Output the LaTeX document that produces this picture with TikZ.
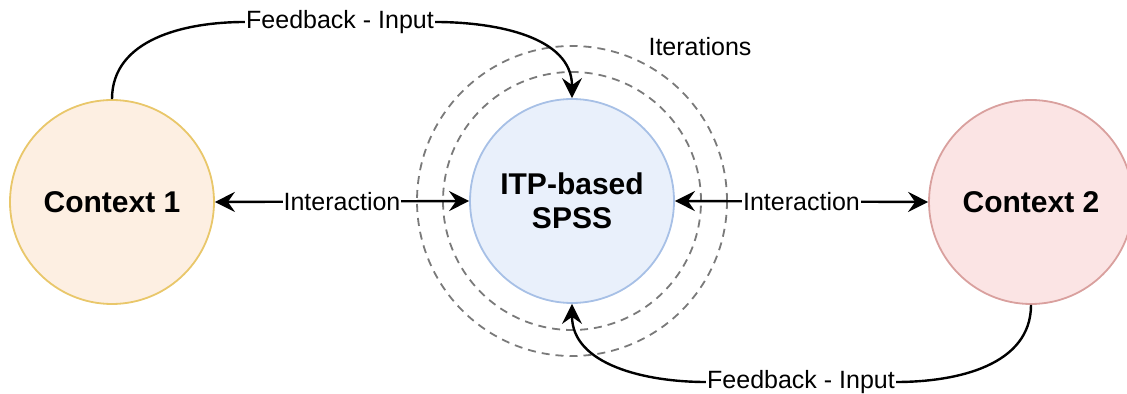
\documentclass[tikz,border=0pt]{standalone}
\usepackage{fontspec}
\setmainfont{Liberation Sans}
\usetikzlibrary{arrows.meta}

\definecolor{ctxonefill}{HTML}{FDEFE2}
\definecolor{ctxoneline}{HTML}{E9C76A}
\definecolor{itpfill}{HTML}{E9F0FB}
\definecolor{itpline}{HTML}{A7C0E6}
\definecolor{ctxtwofill}{HTML}{FBE4E4}
\definecolor{ctxtwoline}{HTML}{D9A09E}
\definecolor{itergray}{HTML}{7A7A7A}

\begin{document}
\begin{tikzpicture}[x=0.5pt, y=-0.5pt,
    ctx/.style={circle, minimum size=102pt, inner sep=0pt, line width=0.9pt,
        font=\bfseries\fontsize{15}{17}\selectfont, align=center},
    lab/.style={fill=white, inner sep=0.5pt, font=\fontsize{12.5}{14}\selectfont},
    link/.style={line width=1.2pt, -{Stealth[length=10pt, width=10pt, inset=3.5pt]}},
    twolink/.style={line width=1.2pt, {Stealth[length=10pt, width=10pt, inset=3.5pt]}-{Stealth[length=10pt, width=10pt, inset=3.5pt]}},
    iter/.style={itergray, line width=0.9pt, dash pattern=on 4pt off 3pt}]

    \useasboundingbox (0,0) rectangle (1127,394);

    % Iteration rings round the middle
    \coordinate (mid) at (572,201);
    \draw[iter] (mid) circle (77.5pt);
    \draw[iter] (mid) circle (64.5pt);

    \node[lab, fill=none] (iterlab) at (700,47) {Iterations};

    % The three circles
    \node[ctx, fill=ctxonefill, draw=ctxoneline] (c1) at (112,202) {Context 1};
    \node[ctx, fill=itpfill, draw=itpline] (itp) at (mid) {ITP-based\\SPSS};
    \node[ctx, fill=ctxtwofill, draw=ctxtwoline] (c2) at (1031,202) {Context 2};


    % Interaction arrows
    \draw[twolink] (c1.east) -- (itp.west) node[lab, midway] (int1) {Interaction};
    \draw[twolink] (itp.east) -- (c2.west) node[lab, midway] (int2) {Interaction};


    % Feedback loops
    \node[lab] (fb1) at (340,22) {Feedback - Input};
    \draw[line width=1.2pt] (c1.north) to[out=90, in=180] (fb1.west);
    \draw[link] (fb1.east) to[out=0, in=90] (itp.north);

    \node[lab] (fb2) at (801,382) {Feedback - Input};
    \draw[line width=1.2pt] (c2.south) to[out=-90, in=0] (fb2.east);
    \draw[link] (fb2.west) to[out=180, in=-90] (itp.south);

\end{tikzpicture}
\end{document}
